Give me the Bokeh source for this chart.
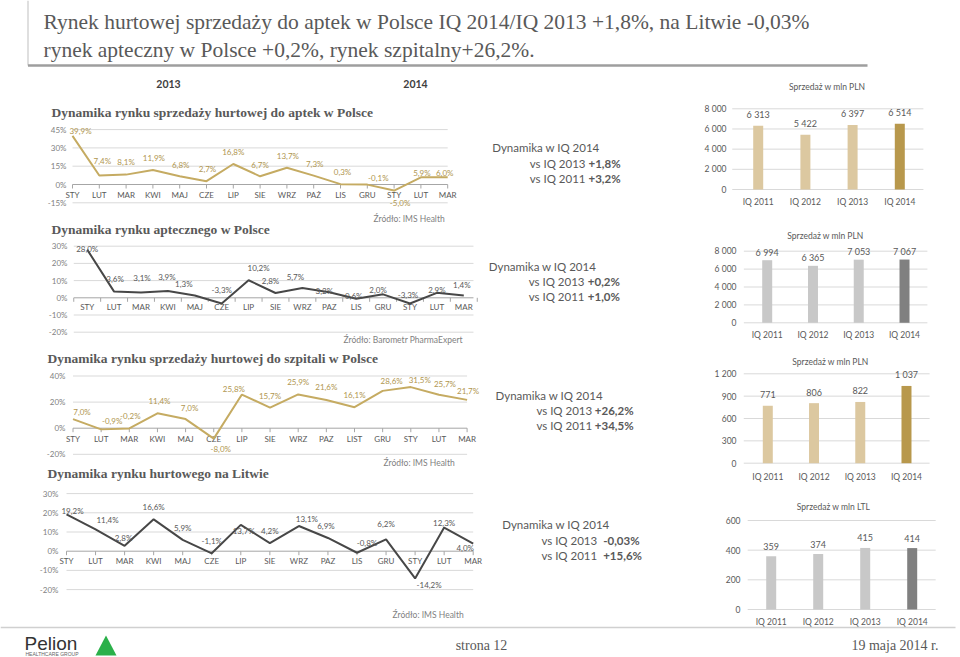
from bokeh.plotting import figure
from bokeh.models import Range1d, ColumnDataSource
from bokeh.core.properties import value
from bokeh.embed import file_html
from bokeh.resources import INLINE

# ---------------- DATA ----------------
months_c1 = ["STY", "LUT", "MAR", "KWI", "MAJ", "CZE", "LIP", "SIE", "WRZ", "PAŻ", "LIS", "GRU", "STY", "LUT", "MAR"]
months_c2 = ["STY", "LUT", "MAR", "KWI", "MAJ", "CZE", "LIP", "SIE", "WRZ", "PAZ", "LIS", "GRU", "STY", "LUT", "MAR"]
months_c3 = ["STY", "LUT", "MAR", "KWI", "MAJ", "CZE", "LIP", "SIE", "WRZ", "PAZ", "LIST", "GRU", "STY", "LUT", "MAR"]
months_c4 = ["STY", "LUT", "MAR", "KWI", "MAJ", "CZE", "LIP", "SIE", "WRZ", "PAZ", "LIS", "GRU", "STY", "LUT", "MAR"]

hurt_apteki_pl = [39.9, 7.4, 8.1, 11.9, 6.8, 2.7, 16.8, 6.7, 13.7, 7.3, 0.3, -0.1, -5.0, 5.9, 6.0]
rynek_apteczny_pl = [28.0, 3.6, 3.1, 3.9, 1.3, -3.3, 10.2, 2.8, 5.7, 3.2, -0.6, 2.0, -3.3, 2.9, 1.4]
hurt_szpitale_pl = [7.0, -0.9, -0.2, 11.4, 7.0, -8.0, 25.8, 15.7, 25.9, 21.6, 16.1, 28.6, 31.5, 25.7, 21.7]
hurt_litwa = [19.2, 11.4, 2.8, 16.6, 5.9, -1.1, 13.7, 4.2, 13.1, 6.9, -0.8, 6.2, -14.2, 12.3, 4.0]

ticks_c1 = [-15, 0, 15, 30, 45]
ticks_c2 = [-20, -10, 0, 10, 20, 30]
ticks_c3 = [-20, 0, 20, 40]
ticks_c4 = [-20, -10, 0, 10, 20, 30]

quarters = ["IQ 2011", "IQ 2012", "IQ 2013", "IQ 2014"]
sprzedaz_apteki = [6313, 5422, 6397, 6514]
sprzedaz_rynek = [6994, 6365, 7053, 7067]
sprzedaz_szpitale = [771, 806, 822, 1037]
sprzedaz_litwa = [359, 374, 415, 414]

ticks_b1 = [0, 2000, 4000, 6000, 8000]
ticks_b2 = [0, 2000, 4000, 6000, 8000]
ticks_b3 = [0, 300, 600, 900, 1200]
ticks_b4 = [0, 200, 400, 600]

dyn_vs_2013 = ["+1,8%", "+0,2%", "+26,2%", "-0,03%"]
dyn_vs_2011 = ["+3,2%", "+1,0%", "+34,5%", "+15,6%"]

# ---------------- STYLE / LAYOUT ----------------
F_SANS = "Lato"
F_SERIF = "Liberation Serif"
GOLD_LINE = "#C5AB62"
GOLD_TEXT = "#B09650"
DARK_LINE = "#474747"
DARK_TEXT = "#595959"
GRID = "#D9D9D9"
AXIS0 = "#A6A6A6"
TICK_TXT = "#7F7F7F"

W, H = 960, 657
X1, Y1 = 960, 657
p = figure(width=W, height=H, x_range=Range1d(0, X1), y_range=Range1d(Y1, 0),
           output_backend="svg", toolbar_location=None, x_axis_type=None, y_axis_type=None,
           min_border=0, outline_line_color=None)
p.background_fill_color = "white"
p.border_fill_color = "white"


def T(xs, ys, texts, size, color, align="left", font=F_SANS, style="normal",
      xr="default", yr="default", baseline="middle"):
    src = ColumnDataSource(dict(x=list(xs), y=list(ys), t=list(texts)))
    p.text(x="x", y="y", text="t", source=src, text_font=value(font),
           text_font_size=f"{size}px", text_color=color, text_align=align,
           text_baseline=baseline, text_font_style=style,
           x_range_name=xr, y_range_name=yr)


def pct(v):
    return f"{v:.1f}".replace(".", ",") + "%"


def add_ranges(key, x0, dx, y0, dy):
    xr, yr = key + "x", key + "y"
    p.extra_x_ranges[xr] = Range1d((0 - x0) / dx, (X1 - x0) / dx)
    p.extra_y_ranges[yr] = Range1d((y0 - Y1) / dy, (y0 - 0) / dy)
    return xr, yr


def line_chart(key, cats, vals, ticks, geom, lcolor, tcolor, offs):
    x0, dx, y0, dy, gx0, gx1, tick_right, cat_y, between = geom
    xr, yr = add_ranges(key, x0, dx, y0, dy)
    grid = [t for t in ticks if t != 0]
    p.segment(x0=[gx0] * len(grid), x1=[gx1] * len(grid), y0=grid, y1=grid,
              line_color=GRID, line_width=1, x_range_name=xr, y_range_name=yr)
    p.segment(x0=[gx0], x1=[gx1], y0=[0], y1=[0], line_color=AXIS0, line_width=1,
              x_range_name=xr, y_range_name=yr)
    n = len(cats)
    tpos = [i - 0.5 for i in range(n + 1)] if between else list(range(n))
    tl = 4.0 / dy
    p.segment(x0=tpos, x1=tpos, y0=[0] * len(tpos), y1=[-tl] * len(tpos),
              line_color=AXIS0, line_width=1, x_range_name=xr, y_range_name=yr)
    T([tick_right] * len(ticks), ticks, [f"{t}%" for t in ticks], 8, TICK_TXT,
      align="right", yr=yr)
    T(range(n), [cat_y] * n, cats, 8, "#595959", align="center", xr=xr)
    p.line(x=list(range(n)), y=vals, line_color=lcolor, line_width=2,
           x_range_name=xr, y_range_name=yr)
    src = ColumnDataSource(dict(x=list(range(n)), y=vals, t=[pct(v) for v in vals],
                                ox=[o[0] for o in offs], oy=[o[1] for o in offs]))
    p.text(x="x", y="y", text="t", source=src, x_offset="ox", y_offset="oy",
           text_font=value(F_SANS), text_font_size="8px", text_color=tcolor,
           text_align="center", text_baseline="middle",
           x_range_name=xr, y_range_name=yr)


def bar_chart(key, cats, vals, ticks, geom, colors, title, title_pos, lbl_off):
    x0, dx, y0, dy, gx0, gx1, tick_right, cat_y = geom
    xr, yr = add_ranges(key, x0, dx, y0, dy)
    p.segment(x0=[gx0] * len(ticks), x1=[gx1] * len(ticks), y0=ticks, y1=ticks,
              line_color=GRID, line_width=1, x_range_name=xr, y_range_name=yr)
    n = len(cats)
    p.vbar(x=list(range(n)), top=vals, width=10.0 / dx, fill_color=colors,
           line_color=None, x_range_name=xr, y_range_name=yr)
    fmt = lambda v: f"{v:,}".replace(",", " ")
    T([tick_right] * len(ticks), ticks, [fmt(t) for t in ticks], 8.5, "#595959",
      align="right", yr=yr)
    T(range(n), [cat_y] * n, cats, 8.5, "#595959", align="center", xr=xr)
    src = ColumnDataSource(dict(x=list(range(n)), y=vals, t=[fmt(v) for v in vals]))
    p.text(x="x", y="y", text="t", source=src, y_offset=lbl_off,
           text_font=value(F_SANS), text_font_size="9px", text_color="#595959",
           text_align="center", text_baseline="middle",
           x_range_name=xr, y_range_name=yr)
    T([title_pos[0]], [title_pos[1]], [title], 8.5, "#595959", align="center")


# ---------------- HEADER ----------------
p.segment(x0=[27.5], x1=[27.5], y0=[0], y1=[65], line_color="#BFBFBF", line_width=1)
p.segment(x0=[27.5], x1=[867], y0=[65], y1=[65], line_color="#9E9E9E", line_width=2.5)
T([43, 43], [21.5, 49.5],
  ["Rynek hurtowej sprzedaży do aptek w Polsce IQ 2014/IQ 2013 +1,8%, na Litwie -0,03%",
   "rynek apteczny w Polsce +0,2%, rynek szpitalny+26,2%."],
  21.5, "#595959", font=F_SERIF)
T([168, 415], [83, 83], ["2013", "2014"], 10.5, "#404040", align="center", style="bold")

# ---------------- LEFT LINE CHARTS ----------------
off_c1 = [(8, -5), (3, -14), (0, -13), (1, -12), (1, -11), (1, -12), (0, -12), (0, -11),
          (1, -12), (1, -12), (2, -12), (11, -7), (6, 12), (1, -4), (-3, -4)]
off_c2 = [(0, -1), (1, -13), (1, -14), (-1, -14), (-11, -12), (0, -13), (10, -12), (-5, -12),
          (-7, -11), (-5, -1), (-4, -3), (-5, -4), (-2, -8), (0, -3), (-2, -10)]
off_c3 = [(9, -7), (11, -8), (1, -12), (2, -12), (4, -11), (7, 10), (-8, -6), (0, -12),
          (0, -12), (0, -13), (0, -12), (9, -10), (9, -7), (6, -11), (1, -9)]
off_c4 = [(6, -3), (12, -9), (-1, -8), (0, -12), (0, -12), (0, -12), (3, 6), (0, -12),
          (8, -7), (-2, -12), (10, -10), (0, -15), (14, 7), (0, -5), (-8, 4)]

line_chart("c1", months_c1, hurt_apteki_pl, ticks_c1,
           (72, 26.8, 184, 18.3 / 15, 0, 14, 66, 194, False), GOLD_LINE, GOLD_TEXT, off_c1)
line_chart("c2", months_c2, rynek_apteczny_pl, ticks_c2,
           (86.7, 26.9, 297.3, 1.72, -0.5, 14.36, 67, 306.7, True), DARK_LINE, DARK_TEXT, off_c2)
line_chart("c3", months_c3, hurt_szpitale_pl, ticks_c3,
           (72.5, 28.15, 427.7, 1.305, 0, 14, 65, 438.3, False), GOLD_LINE, GOLD_TEXT, off_c3)
line_chart("c4", months_c4, hurt_litwa, ticks_c4,
           (66, 29.05, 550.7, 1.92, 0, 14, 58, 560.7, False), DARK_LINE, DARK_TEXT, off_c4)

T([51, 51, 47, 47], [112, 229, 358, 473],
  ["Dynamika rynku sprzedaży hurtowej do aptek w Polsce",
   "Dynamika rynku aptecznego w Polsce",
   "Dynamika rynku sprzedaży hurtowej do szpitali w Polsce",
   "Dynamika rynku hurtowego na Litwie"],
  13.5, "#595959", font=F_SERIF, style="bold")
T([373, 343, 383, 392], [218, 339, 462, 614],
  ["Źródło: IMS Health", "Źródło: Barometr PharmaExpert", "Źródło: IMS Health", "Źródło: IMS Health"],
  8.5, "#7F7F7F")

# ---------------- MIDDLE TEXT ----------------
hx = [491.7, 488.3, 495, 501.7]
hy = [147.3, 266, 395, 524.3]
split = [585, 584, 591.7, 596.7]
bold_x = [588, 587.3, 594.3, 602.7]
T(hx, hy, ["Dynamika w IQ 2014"] * 4, 11.5, "#595959")
T(split + split, [y + 15.2 for y in hy] + [y + 30.2 for y in hy],
  ["vs IQ 2013"] * 4 + ["vs IQ 2011"] * 4, 11.5, "#595959", align="right")
T(bold_x + bold_x, [y + 15.2 for y in hy] + [y + 30.2 for y in hy],
  dyn_vs_2013 + dyn_vs_2011, 11.5, "#595959", style="bold")

# ---------------- RIGHT BAR CHARTS ----------------
TAN = ["#DCC8A0", "#DCC8A0", "#DCC8A0", "#B8984C"]
GRAYS = ["#C8C8C8", "#C8C8C8", "#C8C8C8", "#808080"]
bar_chart("b1", quarters, sprzedaz_apteki, ticks_b1,
          (757.7, 47.2, 189, 80.7 / 8000, -0.55, 3.5, 726, 201.7), TAN,
          "Sprzedaż w mln PLN", (826.7, 86.7), -11)
bar_chart("b2", quarters, sprzedaz_rynek, ticks_b2,
          (766.7, 45.77, 322.3, 71.6 / 8000, -0.51, 3.5, 736, 334), GRAYS,
          "Sprzedaż w mln PLN", (825, 235), -8)
bar_chart("b3", quarters, sprzedaz_szpitale, ticks_b3,
          (767.3, 46.23, 462.7, 89.4 / 1200, -0.52, 3.5, 736, 476), TAN,
          "Sprzedaż w mln PLN", (830, 361.7), -11)
bar_chart("b4", quarters, sprzedaz_litwa, ticks_b4,
          (770.7, 47.0, 609, 89.0 / 600, -0.5, 3.5, 740, 621), GRAYS,
          "Sprzedaż w mln LTL", (833, 506), -10)

# ---------------- FOOTER ----------------
p.segment(x0=[0], x1=[955], y0=[627], y1=[627], line_color="#D0D0D0", line_width=1.5)
T([24], [643], ["Pelion"], 19, "#333333", font="Liberation Sans")
T([25], [653.5], ["HEALTHCARE GROUP"], 5, "#666666", font="Liberation Sans")
p.patch(x=[95, 116, 105.5], y=[655, 655, 635], fill_color="#2BB04A", line_color=None)
T([481], [645], ["strona 12"], 14, "#595959", align="center", font=F_SERIF)
T([938], [645], ["19 maja 2014 r."], 14, "#595959", align="right", font=F_SERIF)

open("out.html", "w").write(file_html(p, INLINE))
